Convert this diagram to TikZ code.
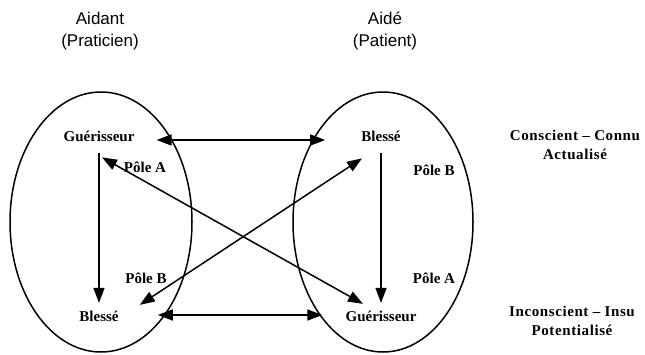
\documentclass[tikz,border=0pt]{standalone}
\usepackage{fontspec}
\setmainfont{Liberation Serif}
\newfontfamily\headfont{Liberation Sans}
\usetikzlibrary{arrows.meta}

\tikzset{
  pole/.style={line width=1.5pt},
  lbl/.style={font=\bfseries\fontsize{15}{18}\selectfont,inner sep=0pt,anchor=base},
  head/.style={font=\headfont\fontsize{17}{22}\selectfont,align=center,inner sep=0pt},
  side/.style={font=\bfseries\fontsize{15}{19}\selectfont\addfontfeature{LetterSpace=4},align=center,inner sep=0pt},
  arr/.style={line width=1.5pt,-{Triangle[length=15pt,width=11pt]}},
  dbl/.style={line width=1.5pt,{Triangle[length=15pt,width=11pt]}-{Triangle[length=15pt,width=11pt]}}
}

\begin{document}
\begin{tikzpicture}[x=1pt,y=-1pt]
\useasboundingbox (0,0) rectangle (645,354);
% the two ovals, 1 unit = 1 px
\draw[pole] (101,222) ellipse [x radius=91, y radius=130];
\draw[pole] (383,222) ellipse [x radius=90, y radius=130];
\node[head] (aidant) at (100,31) {Aidant\\(Praticien)};
\node[head] (aide) at (385,31) {Aidé\\(Patient)};
% roles
\node[lbl] (gl) at (99,141) {Guérisseur};
\node[lbl] (bl) at (99,321) {Blessé};
\node[lbl] (br) at (381,141) {Blessé};
\node[lbl] (gr) at (381,321) {Guérisseur};
\node[lbl] (pa1) at (145,172) {Pôle A};
\node[lbl] (pb1) at (146,283) {Pôle B};
\node[lbl] (pb2) at (434,175) {Pôle B};
\node[lbl] (pa2) at (434,283) {Pôle A};
\node[side] (conscient) at (575,144.5) {Conscient -- Connu\\Actualisé};
\node[side] (inconscient) at (572,321) {Inconscient -- Insu\\Potentialisé};
% links
\draw[arr,shorten <=12pt,shorten >=7.5pt] (gl.south) -- (bl.north);
\draw[arr,shorten <=12pt,shorten >=7.5pt] (br.south) -- (gr.north);
\draw[dbl] ([shift={(22,-1)}]gl.base east) -- ([shift={(-36,-1)}]br.base west);
\draw[dbl] ([shift={(39,-6)}]bl.base east) -- ([shift={(-23,-6)}]gr.base west);
\draw[dbl] ([shift={(3,16)}]gl.south) -- ([shift={(-18,-6.5)}]gr.north);
\draw[dbl] ([shift={(21,-11)}]bl.east) -- ([shift={(-19,17)}]br.south);
\end{tikzpicture}
\end{document}
